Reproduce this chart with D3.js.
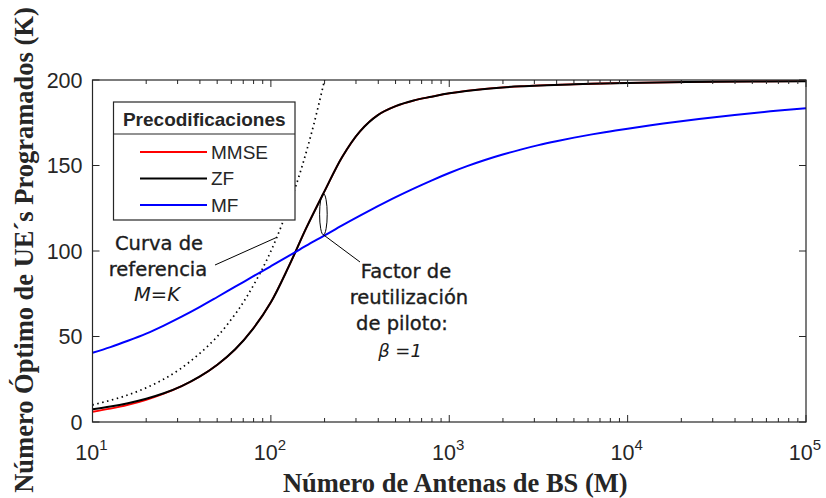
<!DOCTYPE html>
<html>
<head>
<meta charset="utf-8">
<script src="https://cdn.jsdelivr.net/npm/d3@7/dist/d3.min.js"></script>
<style>
  html, body { margin: 0; padding: 0; background: #fff; }
  svg { display: block; }
</style>
</head>
<body>
<svg id="chart" width="826" height="498"></svg>
<script>
// Number of BS antennas (M) and optimal number of scheduled UEs (K) per precoder
const mmseM = [10, 12.6, 15.8, 20, 25.1, 31.6, 39.8, 50.1, 63.1, 79.4, 100, 126, 158, 200, 251, 316, 398, 501, 631, 794, 1000, 1585, 2512, 5012, 10000, 31623, 100000];
const mmseK = [6.0, 7.8, 10.0, 13.0, 16.6, 21.0, 26.5, 33.5, 42.5, 54.5, 70, 91, 113.5, 135, 155, 170, 179.5, 184.7, 188, 190.2, 192.2, 194.8, 196.3, 197.5, 198.3, 199, 199.3];

const zfM = [10, 12.6, 15.8, 20, 25.1, 31.6, 39.8, 50.1, 63.1, 79.4, 100, 126, 158, 200, 251, 316, 398, 501, 631, 794, 1000, 1585, 2512, 5012, 10000, 31623, 100000];
const zfK = [7.4, 9.0, 11.0, 13.6, 16.8, 21.0, 26.5, 33.5, 42.5, 54.5, 70, 91, 113.5, 135, 155, 170, 179.5, 184.7, 188, 190.2, 192.2, 194.8, 196.3, 197.5, 198.3, 199, 199.3];

const mfM = [10, 12.6, 15.8, 20, 25.1, 31.6, 39.8, 50.1, 63.1, 79.4, 100, 126, 158, 200, 251, 316, 398, 501, 631, 794, 1000, 1259, 1585, 1995, 2512, 3162, 3981, 5012, 6310, 7943, 10000, 15849, 25119, 39811, 63096, 100000];
const mfK = [40.5, 43.8, 47.5, 51.7, 56.4, 61.6, 67.2, 73.1, 79.1, 85.1, 91.1, 97.1, 103.1, 109.1, 115.0, 120.7, 126.2, 131.5, 136.5, 141.2, 145.6, 149.6, 153.2, 156.4, 159.3, 161.9, 164.2, 166.3, 168.2, 169.9, 171.5, 174.5, 177.2, 179.6, 181.7, 183.5];

// Reference curve M = K
const refM = [10, 15, 22, 31, 47, 61, 73, 91, 108, 140, 170, 200];
const refK = [10, 15, 22, 31, 47, 61, 73, 91, 108, 140, 170, 200];

const seriesNames = ["MMSE", "ZF", "MF"];
const seriesColors = ["#ff0000", "#000000", "#0000ff"];
const seriesWidths = [1.8, 2, 2];

const yTicks = [0, 50, 100, 150, 200];
const xDecades = [1, 2, 3, 4, 5];
const legendTitle = "Precodificaciones";
const xLabel = "Número de Antenas de BS (M)";
const yLabel = "Número Óptimo de UE´s Programados (K)";

// Pilot reuse annotation: antenna count where ZF and MF are marked
const pilotM = 197;
const pilotRange = [109.5, 133.5];
const refPointer = 108;

const svg = d3.select("#chart");
const plot = { left: 92.5, right: 806, top: 80, bottom: 422 };
const axisColor = "#262626";

const x = d3.scaleLog().domain([10, 1e5]).range([plot.left, plot.right]);
const y = d3.scaleLinear().domain([0, 200]).range([plot.bottom, plot.top]);

svg.append("defs").append("clipPath").attr("id", "clip")
  .append("rect")
  .attr("x", plot.left).attr("y", plot.top)
  .attr("width", plot.right - plot.left).attr("height", plot.bottom - plot.top);

const line = d3.line()
  .x(d => x(d[0]))
  .y(d => y(d[1]))
  .curve(d3.curveCatmullRom.alpha(0.5));

const zip = (a, b) => a.map((v, i) => [v, b[i]]);

const curves = svg.append("g").attr("clip-path", "url(#clip)");

// dotted reference curve
curves.append("path")
  .attr("d", line(zip(refM, refK)))
  .attr("fill", "none")
  .attr("stroke", "#000")
  .attr("stroke-width", 1.7)
  .attr("stroke-dasharray", "1.5,3.5");

const seriesData = [zip(mmseM, mmseK), zip(zfM, zfK), zip(mfM, mfK)];
seriesData.forEach((pts, i) => {
  curves.append("path")
    .attr("d", line(pts))
    .attr("fill", "none")
    .attr("stroke", seriesColors[i])
    .attr("stroke-width", seriesWidths[i])
    .attr("stroke-linejoin", "round");
});

// Axes box with inward ticks on all sides
const ax = svg.append("g");
const minorTicks = [];
xDecades.slice(0, -1).forEach(p => {
  for (let m = 2; m <= 9; m++) minorTicks.push(m * Math.pow(10, p));
});
const majorTicks = xDecades.map(p => Math.pow(10, p));

[[plot.bottom, -1], [plot.top, 1]].forEach(([yy, dir]) => {
  ax.selectAll(null).data(minorTicks).enter().append("line")
    .attr("x1", d => x(d)).attr("x2", d => x(d))
    .attr("y1", yy).attr("y2", yy + dir * 4)
    .attr("stroke", axisColor).attr("stroke-width", 1);
  ax.selectAll(null).data(majorTicks).enter().append("line")
    .attr("x1", d => x(d)).attr("x2", d => x(d))
    .attr("y1", yy).attr("y2", yy + dir * 7)
    .attr("stroke", axisColor).attr("stroke-width", 1);
});
[[plot.left, 1], [plot.right, -1]].forEach(([xx, dir]) => {
  ax.selectAll(null).data(yTicks).enter().append("line")
    .attr("x1", xx).attr("x2", xx + dir * 7)
    .attr("y1", d => y(d)).attr("y2", d => y(d))
    .attr("stroke", axisColor).attr("stroke-width", 1);
});
ax.append("rect")
  .attr("x", plot.left).attr("y", plot.top)
  .attr("width", plot.right - plot.left).attr("height", plot.bottom - plot.top)
  .attr("fill", "none").attr("stroke", axisColor).attr("stroke-width", 1.2);

// Tick labels
const tickFont = "'Liberation Sans', Arial, sans-serif";
ax.selectAll(null).data(yTicks).enter().append("text")
  .attr("x", plot.left - 10)
  .attr("y", d => y(d))
  .attr("dy", "0.36em")
  .attr("text-anchor", "end")
  .attr("font-family", tickFont)
  .attr("font-size", 21.5)
  .attr("fill", axisColor)
  .text(d => d);

const xt = ax.selectAll(null).data(xDecades).enter().append("text")
  .attr("x", d => x(Math.pow(10, d)) - 1)
  .attr("y", plot.bottom + 38)
  .attr("text-anchor", "middle")
  .attr("font-family", tickFont)
  .attr("font-size", 21.5)
  .attr("fill", axisColor);
xt.append("tspan").text("10");
xt.append("tspan").attr("dy", -10).attr("font-size", 15).text(d => d);

// Axis titles
svg.append("text")
  .attr("x", (plot.left + plot.right) / 2 + 6)
  .attr("y", 492)
  .attr("text-anchor", "middle")
  .attr("font-family", "'Liberation Serif', 'Times New Roman', serif")
  .attr("font-weight", "bold")
  .attr("font-size", 26.5)
  .attr("fill", axisColor)
  .text(xLabel);

svg.append("text")
  .attr("transform", "translate(33,250) rotate(-90)")
  .attr("text-anchor", "middle")
  .attr("font-family", "'Liberation Serif', 'Times New Roman', serif")
  .attr("font-weight", "bold")
  .attr("font-size", 26.5)
  .attr("fill", axisColor)
  .text(yLabel);

// Legend
const lg = svg.append("g");
const lgBox = { x: 113.5, y: 102, w: 181.5, h: 118, head: 32 };
lg.append("rect")
  .attr("x", lgBox.x).attr("y", lgBox.y).attr("width", lgBox.w).attr("height", lgBox.h)
  .attr("fill", "#fff").attr("stroke", axisColor).attr("stroke-width", 1.2);
lg.append("line")
  .attr("x1", lgBox.x).attr("x2", lgBox.x + lgBox.w)
  .attr("y1", lgBox.y + lgBox.head).attr("y2", lgBox.y + lgBox.head)
  .attr("stroke", axisColor).attr("stroke-width", 1.2);
lg.append("text")
  .attr("x", lgBox.x + lgBox.w / 2)
  .attr("y", lgBox.y + 17)
  .attr("dy", "0.36em")
  .attr("text-anchor", "middle")
  .attr("font-family", tickFont)
  .attr("font-weight", "bold")
  .attr("font-size", 19)
  .attr("fill", axisColor)
  .text(legendTitle);
seriesNames.forEach((name, i) => {
  const yy = lgBox.y + 50 + i * 26.5;
  lg.append("line")
    .attr("x1", 140).attr("x2", 207)
    .attr("y1", yy).attr("y2", yy)
    .attr("stroke", seriesColors[i]).attr("stroke-width", 2);
  lg.append("text")
    .attr("x", 211).attr("y", yy)
    .attr("dy", "0.36em")
    .attr("font-family", tickFont)
    .attr("font-size", 19)
    .attr("fill", axisColor)
    .text(name);
});

// Annotations
const noteFont = "'DejaVu Sans', Verdana, sans-serif";
const note = svg.append("g")
  .attr("font-family", noteFont)
  .attr("font-size", 19.5)
  .attr("fill", "#1c1c1c")
  .attr("stroke", "#1c1c1c")
  .attr("stroke-width", 0.35)
  .attr("text-anchor", "middle");

note.append("text").attr("x", 159).attr("y", 250).text("Curva de");
note.append("text").attr("x", 158).attr("y", 276).text("referencia");
const mk = note.append("text").attr("x", 157).attr("y", 301).attr("stroke-width", 0);
mk.append("tspan").attr("font-style", "italic").text("M");
mk.append("tspan").text("=");
mk.append("tspan").attr("font-style", "italic").text("K");

svg.append("line")
  .attr("x1", 215).attr("y1", 265)
  .attr("x2", x(refPointer)).attr("y2", y(refPointer))
  .attr("stroke", "#000").attr("stroke-width", 1);

note.append("text").attr("x", 406).attr("y", 278).text("Factor de");
note.append("text").attr("x", 409).attr("y", 304).text("reutilización");
note.append("text").attr("x", 402).attr("y", 330).text("de piloto:");
const beta = note.append("text").attr("x", 400).attr("y", 357).attr("stroke-width", 0).attr("font-size", 18);
beta.append("tspan").attr("font-style", "italic").text("β =1");

const ey0 = y(pilotRange[1]), ey1 = y(pilotRange[0]);
svg.append("ellipse")
  .attr("cx", x(pilotM)).attr("cy", (ey0 + ey1) / 2)
  .attr("rx", 3.8).attr("ry", (ey1 - ey0) / 2)
  .attr("fill", "none").attr("stroke", "#000").attr("stroke-width", 1);
svg.append("line")
  .attr("x1", x(pilotM)).attr("y1", ey1)
  .attr("x2", 360).attr("y2", 262)
  .attr("stroke", "#000").attr("stroke-width", 1);
</script>
</body>
</html>
